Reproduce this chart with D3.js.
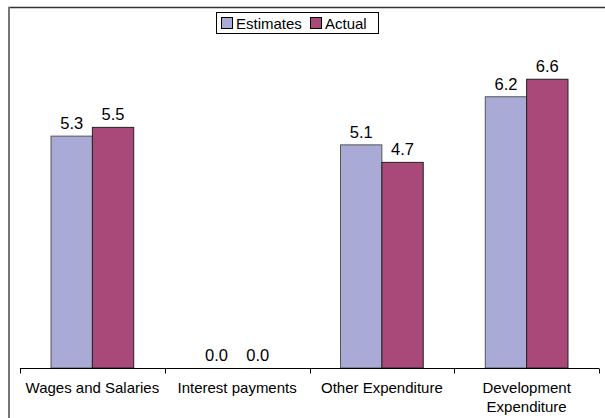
<!DOCTYPE html>
<html><head><meta charset="utf-8">
<script src="https://cdn.jsdelivr.net/npm/d3@7"></script>
<style>body{margin:0;background:#fff}svg{display:block}text{font-family:"Liberation Sans",Arial,sans-serif}</style>
</head><body>
<svg id="c" width="605" height="418"></svg>
<script>
const categories = ["Wages and Salaries","Interest payments","Other Expenditure","Development Expenditure"];
const seriesNames = ["Estimates","Actual"];
const estimates = [5.3, 0.0, 5.1, 6.2];
const actual = [5.5, 0.0, 4.7, 6.6];
const colors = ["#AAAAD6","#A9497A"];

const svg = d3.select("#c");
// chart frame
svg.append("line").attr("x1",8).attr("x2",605).attr("y1",7.5).attr("y2",7.5).attr("stroke","#333").attr("stroke-width",1.5);
svg.append("line").attr("x1",9).attr("x2",9).attr("y1",7).attr("y2",418).attr("stroke","#777").attr("stroke-width",2);

const x0 = d3.scaleBand().domain(categories).range([20,599]).paddingInner(0).paddingOuter(0);
const inner = d3.scaleBand().domain(seriesNames).range([0,x0.bandwidth()]).paddingInner(0).paddingOuter(0.75);
const y = d3.scaleLinear().domain([0,8]).range([368,18]);

const data = categories.map((c,i)=>({cat:c, vals:[estimates[i], actual[i]]}));
const g = svg.append("g");
data.forEach(d=>{
  d.vals.forEach((v,j)=>{
    const bx = x0(d.cat)+inner(seriesNames[j]);
    if (v>0) g.append("rect").attr("x",bx).attr("y",y(v)).attr("width",inner.bandwidth()).attr("height",y(0)-y(v))
      .attr("fill",colors[j]).attr("stroke",j===0?"#555":"#222").attr("stroke-width",1);
    g.append("text").attr("x",bx+inner.bandwidth()/2).attr("y",y(v)-7).attr("text-anchor","middle")
      .attr("font-size",16.5).attr("fill","#000").text(v.toFixed(1));
  });
});

// x axis
const ax = svg.append("g").attr("transform","translate(0,368.5)");
ax.append("line").attr("x1",20).attr("x2",599).attr("stroke","#000").attr("stroke-width",1);
const tickPos = categories.map(c=>x0(c)).concat([x0.range()[1]]);
tickPos.forEach(t=>ax.append("line").attr("x1",Math.round(t)+0.5).attr("x2",Math.round(t)+0.5).attr("y1",0).attr("y2",5).attr("stroke","#000"));
const labelLines = [["Wages and Salaries"],["Interest payments"],["Other Expenditure"],["Development","Expenditure"]];
categories.forEach((c,i)=>{
  const t = svg.append("text").attr("x",x0(c)+x0.bandwidth()/2).attr("text-anchor","middle").attr("font-size",15).attr("fill","#000");
  labelLines[i].forEach((l,k)=>t.append("tspan").attr("x",x0(c)+x0.bandwidth()/2).attr("y",393+k*19).text(l));
});

// legend
const lg = svg.append("g");
lg.append("rect").attr("x",216.5).attr("y",12.5).attr("width",162).attr("height",21).attr("fill","#fff").attr("stroke","#000");
const items = [{x:221, name:seriesNames[0], c:colors[0]},{x:310, name:seriesNames[1], c:colors[1]}];
items.forEach(it=>{
  lg.append("rect").attr("x",it.x+0.5).attr("y",17.5).attr("width",11).attr("height",11).attr("fill",it.c).attr("stroke","#000");
  lg.append("text").attr("x",it.x+15).attr("y",28.5).attr("font-size",15).attr("fill","#000").text(it.name);
});
</script>
</body></html>
